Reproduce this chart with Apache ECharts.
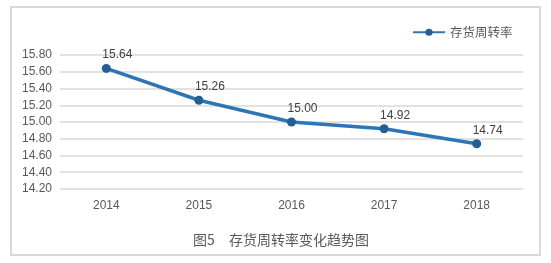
<!DOCTYPE html>
<html>
<head>
<meta charset="utf-8">
<script src="https://cdn.jsdelivr.net/npm/echarts@6/dist/echarts.min.js"></script>
<style>
  html, body { margin: 0; padding: 0; background: #fff; }
  #chart { width: 551px; height: 263px; }
</style>
</head>
<body>
<div id="chart"></div>
<script>
const years = ["2014", "2015", "2016", "2017", "2018"];
const turnover = [15.64, 15.26, 15.0, 14.92, 14.74];
const seriesName = "存货周转率";
const caption = "图5\u3000存货周转率变化趋势图";

const chart = echarts.init(document.getElementById("chart"));
const font = "'Noto Sans CJK SC', 'Microsoft YaHei', sans-serif";
const numFont = "'Liberation Sans', Arial, sans-serif";

chart.setOption({
  animation: false,
  textStyle: { fontFamily: font },
  graphic: [
    {
      type: "rect",
      shape: { x: 11, y: 7, width: 529, height: 248 },
      style: { fill: "none", stroke: "#d9d9d9", lineWidth: 2 },
      silent: true,
    },
  ],
  title: {
    text: caption,
    left: 276,
    textAlign: "center",
    top: 228,
    textStyle: { fontSize: 14, fontWeight: "normal", color: "#595959", fontFamily: font },
  },
  legend: {
    data: [seriesName],
    left: 407,
    top: 21,
    itemWidth: 32,
    itemHeight: 9,
    itemGap: 3,
    textStyle: { fontSize: 12.5, color: "#595959", fontFamily: font },
  },
  grid: { left: 60, right: 28, top: 55, bottom: 74 },
  xAxis: {
    type: "category",
    data: years,
    boundaryGap: true,
    axisLine: { show: false },
    axisTick: { show: false },
    axisLabel: { color: "#595959", fontSize: 12, margin: 11, fontFamily: numFont },
  },
  yAxis: {
    type: "value",
    min: 14.2,
    max: 15.8,
    interval: 0.2,
    axisLine: { show: false },
    axisTick: { show: false },
    axisLabel: {
      color: "#595959",
      fontSize: 12,
      margin: 8,
      fontFamily: numFont,
      formatter: (v) => v.toFixed(2),
    },
    splitLine: { lineStyle: { color: "#d9d9d9", width: 1.5 } },
  },
  series: [
    {
      name: seriesName,
      type: "line",
      data: turnover,
      symbol: "circle",
      symbolSize: 9,
      lineStyle: { color: "#2e75b6", width: 3.5 },
      itemStyle: { color: "#255e91" },
      label: {
        show: true,
        position: "top",
        distance: 3,
        offset: [11, 0],
        color: "#404040",
        fontSize: 12,
        fontFamily: numFont,
        formatter: (p) => p.value.toFixed(2),
      },
    },
  ],
});
</script>
</body>
</html>
